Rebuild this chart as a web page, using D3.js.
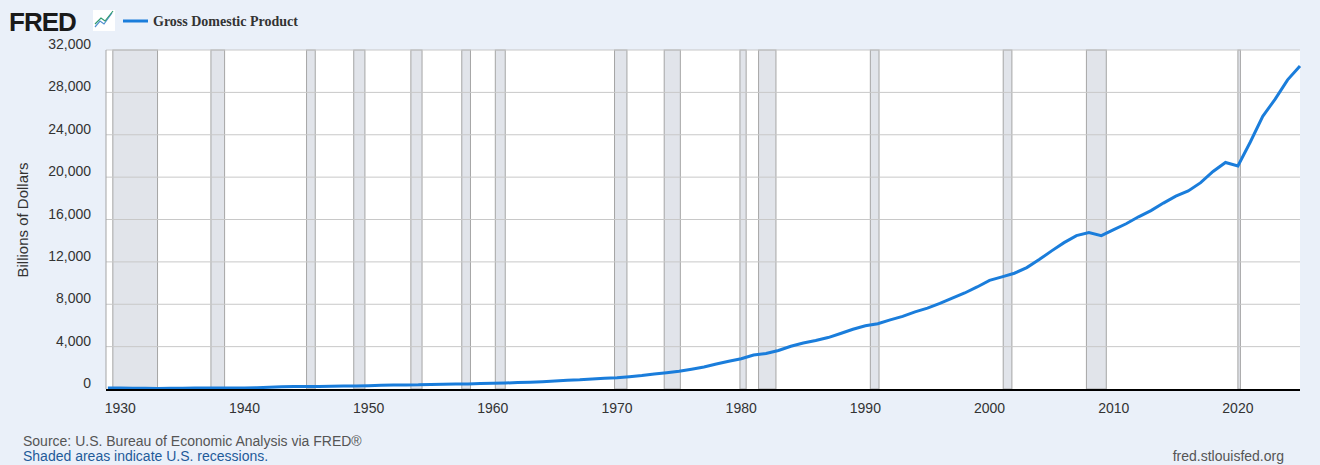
<!DOCTYPE html>
<html><head><meta charset="utf-8">
<script src="https://cdn.jsdelivr.net/npm/d3@7"></script>
<style>body{margin:0;background:#eaf0f9;}svg{display:block;}</style>
</head><body>
<svg id="chart" width="1320" height="465"></svg>
<script>
// annual GDP, billions of dollars
const years = d3.range(1929, 2026);
const gdp = [105,92,77,60,57,67,74,85,93,87,93,103,129,167,206,228,232,229,250,274,272,300,347,367,389,391,426,449,474,482,522,543,563,605,639,686,744,815,862,943,1019,1073,1165,1280,1425,1545,1684,1873,2082,2352,2627,2857,3207,3344,3634,4038,4339,4580,4855,5236,5642,5963,6158,6520,6859,7287,7640,8073,8578,9063,9631,10251,10582,10929,11457,12217,13039,13816,14474,14770,14478,15049,15600,16254,16843,17551,18206,18695,19477,20533,21381,21060,23315,25744,27361,29184,30500];
const recessions = [[1929.4,1933.0],[1937.3,1938.4],[1945.0,1945.7],[1948.8,1949.7],[1953.4,1954.3],[1957.5,1958.2],[1960.2,1961.0],[1969.8,1970.8],[1973.8,1975.1],[1979.9,1980.4],[1981.4,1982.8],[1990.4,1991.1],[2001.1,2001.8],[2007.8,2009.4],[2020.0,2020.2]];
const yTicks = d3.range(0, 32001, 4000);
const xTicks = d3.range(1930, 2021, 10);

const svg = d3.select("#chart");
const pL = 106, pR = 1300, pT = 50, pB = 389;
const x = d3.scaleLinear().domain([1928.85, 2025]).range([pL, pR]);
const y = d3.scaleLinear().domain([0, 32000]).range([pB, pT]);

svg.append("rect").attr("x", pL).attr("y", pT).attr("width", pR - pL).attr("height", pB - pT).attr("fill", "#fff");

svg.selectAll(".rec").data(recessions).enter().append("rect")
  .attr("x", d => x(d[0])).attr("y", pT)
  .attr("width", d => x(d[1]) - x(d[0])).attr("height", pB - pT)
  .attr("fill", "#e1e4ea").attr("stroke", "#a5a5a5").attr("stroke-width", 1);

svg.selectAll(".grid").data(yTicks.slice(1)).enter().append("line")
  .attr("x1", pL).attr("x2", pR).attr("y1", d => y(d)).attr("y2", d => y(d))
  .attr("stroke", "#c8c8c8").attr("stroke-width", 1);

svg.append("line").attr("x1", pL).attr("x2", pL).attr("y1", pT).attr("y2", pB).attr("stroke", "#a5a5a5");

svg.selectAll(".yl").data(yTicks).enter().append("text")
  .attr("x", 91).attr("y", d => y(d) - 1).attr("text-anchor", "end")
  .attr("font-family", "Liberation Sans, Arial").attr("font-size", 14).attr("fill", "#333")
  .text(d3.format(","));

svg.selectAll(".xl").data(xTicks).enter().append("text")
  .attr("x", d => x(d)).attr("y", 413).attr("text-anchor", "middle")
  .attr("font-family", "Liberation Sans, Arial").attr("font-size", 14).attr("fill", "#333")
  .text(d => d);

svg.append("path").datum(years.map((yr, i) => [yr, gdp[i]]))
  .attr("fill", "none").attr("stroke", "#1a7ddb").attr("stroke-width", 3)
  .attr("d", d3.line().x(d => x(d[0])).y(d => y(d[1])));

svg.append("line").attr("x1", pL).attr("x2", pR).attr("y1", pB + 1).attr("y2", pB + 1).attr("stroke", "#000").attr("stroke-width", 2);

svg.append("text").attr("transform", "translate(28,220) rotate(-90)").attr("text-anchor", "middle")
  .attr("font-family", "Liberation Sans, Arial").attr("font-size", 15).attr("fill", "#333").text("Billions of Dollars");

// header
svg.append("text").attr("x", 9).attr("y", 31).attr("font-family", "Liberation Sans, Arial").attr("font-weight", "bold")
  .attr("font-size", 26).attr("letter-spacing", -1).attr("fill", "#1a1a1a").text("FRED");
svg.append("rect").attr("x", 93).attr("y", 10).attr("width", 22).attr("height", 21).attr("fill", "#fff");
svg.append("path").attr("d", "M95,27 L100,21 L104,24 L112,13").attr("fill", "none").attr("stroke", "#4f8fd0").attr("stroke-width", 1.2);
svg.append("path").attr("d", "M95,24 L101,18 L105,21 L113,11").attr("fill", "none").attr("stroke", "#2f9a6f").attr("stroke-width", 1.2);
svg.append("line").attr("x1", 123).attr("x2", 148).attr("y1", 21).attr("y2", 21).attr("stroke", "#1a7ddb").attr("stroke-width", 3);
svg.append("text").attr("x", 153).attr("y", 26).attr("font-family", "Liberation Serif, Times New Roman").attr("font-weight", "bold")
  .attr("font-size", 14).attr("fill", "#333").text("Gross Domestic Product");

svg.append("text").attr("x", 23).attr("y", 446).attr("font-family", "Liberation Sans, Arial").attr("font-size", 14).attr("fill", "#555")
  .text("Source: U.S. Bureau of Economic Analysis via FRED®");
svg.append("text").attr("x", 23).attr("y", 461).attr("font-family", "Liberation Sans, Arial").attr("font-size", 14).attr("fill", "#1f5b99")
  .text("Shaded areas indicate U.S. recessions.");
svg.append("text").attr("x", 1284).attr("y", 461).attr("text-anchor", "end").attr("font-family", "Liberation Sans, Arial").attr("font-size", 14).attr("fill", "#555")
  .text("fred.stlouisfed.org");
</script>
</body></html>
